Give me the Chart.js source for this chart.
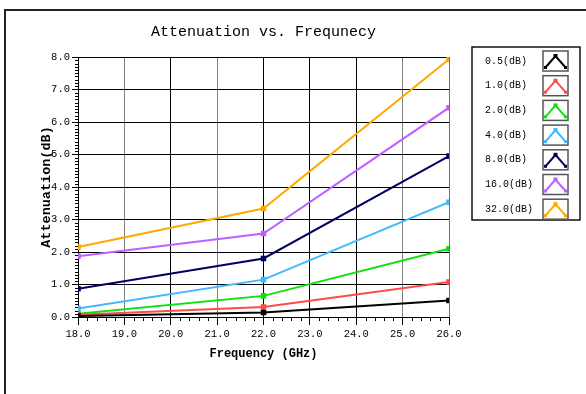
<!DOCTYPE html>
<html>
<head>
<meta charset="utf-8">
<script src="https://cdn.jsdelivr.net/npm/chart.js@4/dist/chart.umd.min.js"></script>
<style>
  html, body { margin: 0; padding: 0; background: #fff; }
  #wrap { width: 586px; height: 394px; }
</style>
</head>
<body>
<div id="wrap"><canvas id="c" width="586" height="394"></canvas></div>
<script>
// Frequencies (GHz) at which attenuation was measured
const frequencies = [18, 22, 26];

// Attenuation (dB) per attenuator setting
const att05 = [0.03, 0.14, 0.51];
const att1 = [0.07, 0.31, 1.08];
const att2 = [0.10, 0.65, 2.10];
const att4 = [0.26, 1.15, 3.53];
const att8 = [0.87, 1.80, 4.95];
const att16 = [1.87, 2.57, 6.44];
const att32 = [2.15, 3.34, 7.93];

const seriesLabels = ['0.5(dB)', '1.0(dB)', '2.0(dB)', '4.0(dB)', '8.0(dB)', '16.0(dB)', '32.0(dB)'];
const seriesValues = [att05, att1, att2, att4, att8, att16, att32];
const seriesColors = ['#000000', '#ff4a4a', '#10e010', '#40b8ff', '#000060', '#c060ff', '#ffa800'];

// Axis ranges
const xMin = 18, xMax = 26;
const yMin = 0, yMax = 8;

const FONT = '"Liberation Mono", "DejaVu Sans Mono", monospace';

const datasets = seriesValues.map((vals, i) => ({
  label: seriesLabels[i],
  data: frequencies.map((f, j) => ({ x: f, y: vals[j] })),
  borderColor: seriesColors[i],
  backgroundColor: seriesColors[i],
  borderWidth: 2,
  pointStyle: 'rect',
  pointRadius: 2.5,
  pointHoverRadius: 2.5,
  tension: 0
}));

// Frame, minor ticks and the boxed legend on the right
const decorations = {
  id: 'decorations',
  beforeDraw(chart) {
    const ctx = chart.ctx;
    ctx.save();
    ctx.fillStyle = '#ffffff';
    ctx.fillRect(0, 0, chart.width, chart.height);
    ctx.strokeStyle = '#222';
    ctx.lineWidth = 2;
    ctx.beginPath();
    ctx.moveTo(5, chart.height);
    ctx.lineTo(5, 10);
    ctx.lineTo(chart.width, 10);
    ctx.stroke();
    ctx.restore();
  },
  afterDraw(chart) {
    const ctx = chart.ctx;
    const xs = chart.scales.x, ys = chart.scales.y;
    const area = chart.chartArea;
    ctx.save();
    ctx.strokeStyle = '#000';
    ctx.lineWidth = 1;
    ctx.beginPath();
    // minor ticks on the value axis
    for (let k = 1; k < (yMax - yMin) * 10; k++) {
      if (k % 10 === 0) continue;
      const py = Math.round(ys.getPixelForValue(yMin + k / 10)) + 0.5;
      ctx.moveTo(area.left - 3, py);
      ctx.lineTo(area.left, py);
    }
    // minor ticks on the frequency axis
    for (let k = 1; k < (xMax - xMin) * 5; k++) {
      if (k % 5 === 0) continue;
      const px = Math.round(xs.getPixelForValue(xMin + k / 5)) + 0.5;
      ctx.moveTo(px, area.bottom);
      ctx.lineTo(px, area.bottom + 4);
    }
    ctx.stroke();

    // legend box
    const bx = 472, by = 47, bw = 108, bh = 173;
    ctx.strokeStyle = '#111';
    ctx.lineWidth = 1.5;
    ctx.strokeRect(bx, by, bw, bh);
    ctx.font = '10px ' + FONT;
    ctx.textBaseline = 'middle';
    ctx.textAlign = 'left';
    chart.data.datasets.forEach((ds, i) => {
      const cy = 61 + i * 24.7;
      ctx.fillStyle = '#000';
      ctx.fillText(ds.label, 485, cy);
      const ix = 543, iy = cy - 10, iw = 25, ih = 20;
      ctx.strokeStyle = '#555';
      ctx.lineWidth = 1.5;
      ctx.strokeRect(ix, iy, iw, ih);
      ctx.strokeStyle = ds.borderColor;
      ctx.fillStyle = ds.borderColor;
      ctx.lineWidth = 2;
      ctx.beginPath();
      ctx.moveTo(ix + 2, iy + ih - 3);
      ctx.lineTo(ix + iw / 2, iy + 5);
      ctx.lineTo(ix + iw - 2, iy + ih - 3);
      ctx.stroke();
      ctx.fillRect(ix + iw / 2 - 2, iy + 3, 4, 4);
      ctx.fillRect(ix + 1, iy + ih - 5, 3, 3);
      ctx.fillRect(ix + iw - 4, iy + ih - 5, 3, 3);
    });
    ctx.restore();
  }
};

const verticalGridColors = ['#000', '#808080', '#000', '#808080', '#000', '#000', '#000', '#808080', '#707070'];

new Chart(document.getElementById('c'), {
  type: 'line',
  data: { datasets },
  plugins: [decorations],
  options: {
    responsive: false,
    animation: false,
    events: [],
    layout: { padding: { left: 0, right: 137, top: 0, bottom: 0 } },
    plugins: {
      legend: { display: false },
      tooltip: { enabled: false },
      title: {
        display: true,
        text: 'Attenuation vs. Frequnecy',
        color: '#000',
        fullSize: false,
        font: { family: FONT, size: 15, weight: 'normal' },
        padding: { top: 23, bottom: 16 }
      }
    },
    scales: {
      x: {
        type: 'linear',
        min: xMin,
        max: xMax,
        afterFit(scale) { scale.height = 77; },
        ticks: {
          stepSize: 1,
          color: '#000',
          padding: 3,
          maxRotation: 0,
          font: { family: FONT, size: 10.5 },
          callback: v => Number(v).toFixed(1)
        },
        grid: {
          color: ctx => verticalGridColors[ctx.index] || '#000',
          lineWidth: 1,
          tickLength: 8,
          tickColor: '#000'
        },
        border: { color: '#000', width: 1 },
        title: {
          display: true,
          text: 'Frequency (GHz)',
          color: '#000',
          font: { family: FONT, size: 12, weight: 'bold' },
          padding: { top: 0, bottom: 33 }
        }
      },
      y: {
        min: yMin,
        max: yMax,
        afterFit(scale) { scale.width = 78; },
        ticks: {
          stepSize: 1,
          color: '#000',
          padding: 2,
          font: { family: FONT, size: 10.5 },
          callback: v => Number(v).toFixed(1)
        },
        grid: {
          color: '#000',
          lineWidth: 1,
          tickLength: 6,
          tickColor: '#000'
        },
        border: { color: '#000', width: 1 },
        title: {
          display: true,
          text: 'Attenuation(dB)',
          color: '#000',
          font: { family: FONT, size: 13.5, weight: 'bold' },
          padding: { top: 38, bottom: 0 }
        }
      }
    }
  }
});
</script>
</body>
</html>
